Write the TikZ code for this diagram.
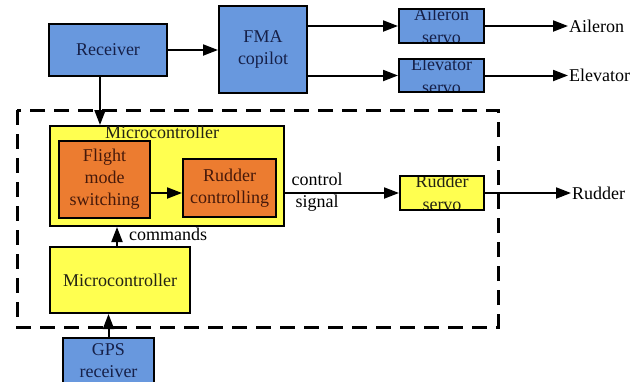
\documentclass[tikz,border=0pt]{standalone}
\usepackage{fontspec}
\setmainfont{LiberationSerif}[Extension=.ttf, UprightFont=*-Regular, BoldFont=*-Bold]
\usetikzlibrary{arrows.meta}
\definecolor{bluebox}{RGB}{104,152,222}
\definecolor{yellowbox}{RGB}{255,255,80}
\definecolor{orangebox}{RGB}{236,124,48}
\definecolor{bluetext}{RGB}{22,32,72}
\definecolor{orangetext}{RGB}{70,25,10}
\definecolor{yellowtext}{RGB}{35,35,20}
\tikzset{
  box/.style={draw=black, line width=2pt, inner sep=0pt, align=center},
  bluenode/.style={box, fill=bluebox, text=bluetext},
  yellownode/.style={box, fill=yellowbox, text=yellowtext},
  orangenode/.style={box, fill=orangebox, text=orangetext},
  arr/.style={line width=2pt, -{Triangle[length=15pt,width=11pt]}},
  plain/.style={inner sep=1pt, text=black},
  clippedtext/.style={path picture={\node[align=center, text=#1] at (path picture bounding box.center) {\clippedlabel};}},
}
\newcommand{\clippedlabel}{}
\begin{document}
\begin{tikzpicture}[x=1pt,y=-1pt, font=\rmfamily\fontsize{18}{22}\selectfont]
\useasboundingbox (0,0) rectangle (640,381);
\clip (0,0) rectangle (640,381);
% dashed frame
\draw[line width=3pt, dash pattern=on 15pt off 9pt] (17,110) rectangle (498,327);
% boxes
\node[bluenode, minimum width=118pt, minimum height=52pt] (rec) at (108,50) {Receiver};
\node[bluenode, minimum width=88pt, minimum height=87pt] (fma) at (263,49.5) {FMA\\copilot};
\renewcommand{\clippedlabel}{Aileron\\[1pt]servo}
\node[box, fill=bluebox, minimum width=85pt, minimum height=34pt, clippedtext=bluetext] (ail) at (441.5,26) {};
\renewcommand{\clippedlabel}{Elevator\\[1pt]servo}
\node[box, fill=bluebox, minimum width=85pt, minimum height=33pt, clippedtext=bluetext] (elev) at (441.5,75.5) {};
\node[yellownode, minimum width=234pt, minimum height=100pt] (mcu) at (167,176) {};
\node[plain, text=yellowtext] (mculabel) at (162,132) {Microcontroller};
\node[orangenode, minimum width=91pt, minimum height=77pt] (flight) at (104.5,179.5) {Flight\\mode\\switching};
\node[orangenode, minimum width=93pt, minimum height=58pt] (rudc) at (229.5,188) {Rudder\\controlling};
\renewcommand{\clippedlabel}{Rudder\\[1pt]servo}
\node[box, fill=yellowbox, minimum width=84pt, minimum height=34pt, clippedtext=yellowtext] (rservo) at (442,193) {};
\node[yellownode, minimum width=140pt, minimum height=66pt] (mcu2) at (120,280) {Microcontroller};
\renewcommand{\clippedlabel}{GPS\\receiver}
\node[box, fill=bluebox, minimum width=91pt, minimum height=46pt, clippedtext=bluetext] (gps) at (108.5,361) {};
% outside labels
\node[plain, anchor=west] (ailt) at (568,26) {Aileron};
\node[plain, anchor=west] (elevt) at (568,75.5) {Elevator};
\node[plain, anchor=west] (rudt) at (571,193) {Rudder};
\node[plain, align=center] (cs) at (317,192) {control\\signal};
\node[plain] (cmd) at (168,234) {commands};
\coordinate (c1) at (0,193);
% connectors
\draw[arr] (rec.east) -- (rec.east -| fma.west);
\draw[arr] (fma.east |- ail.west) -- (ail.west);
\draw[arr] (fma.east |- elev.west) -- (elev.west);
\draw[arr] (ail.east) -- (ailt.west);
\draw[arr] (elev.east) -- (elevt.west);
\draw[arr] ([xshift=-8pt]rec.south) -- ([xshift=-8pt]rec.south |- mcu.north);
\draw[arr] (flight.east |- c1) -- (rudc.west |- c1);
\draw[arr] (mcu.east |- c1) -- (rservo.west);
\draw[arr] (rservo.east) -- (rudt.west);
\draw[arr] ([xshift=-3pt]mcu2.north) -- ([xshift=-3pt]mcu2.north |- mcu.south);
\draw[arr] (gps.north) -- (gps.north |- mcu2.south);
\end{tikzpicture}
\end{document}
